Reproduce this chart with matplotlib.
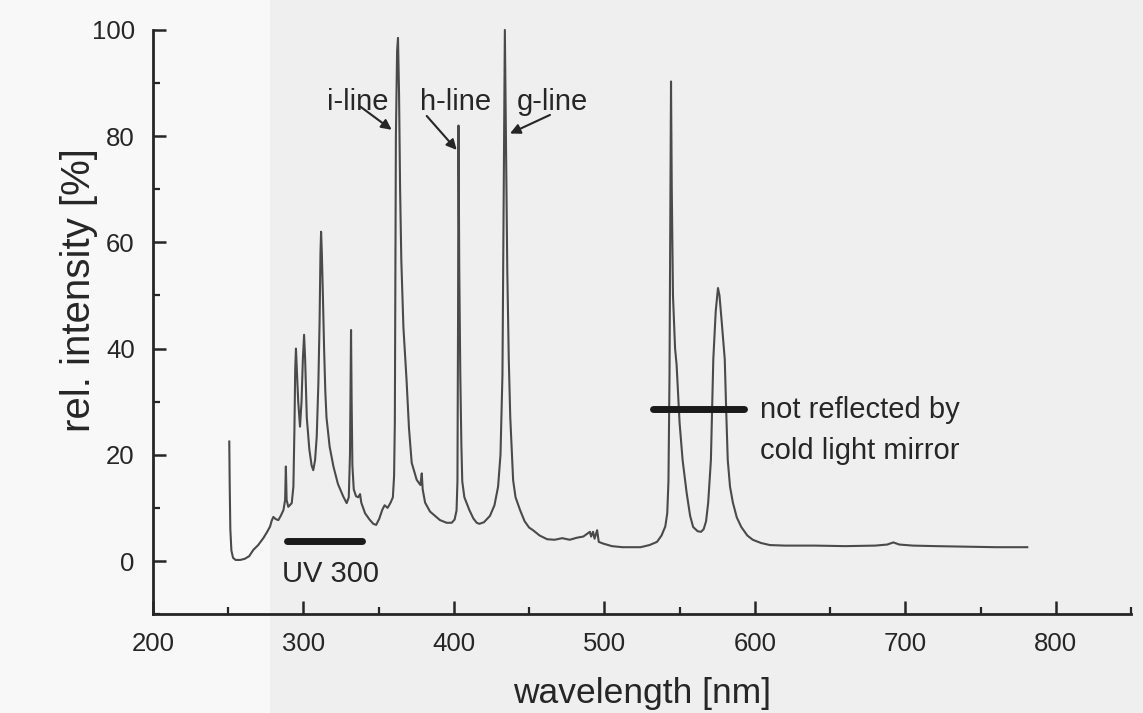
import matplotlib
matplotlib.use("Agg")
import matplotlib.pyplot as plt
from matplotlib.ticker import MultipleLocator
from matplotlib.patches import Rectangle

# ---- data (wavelength in nm, relative intensity in %) ----
wavelength_nm = [
    250.8, 251.1, 251.5, 252.2, 253.3, 255, 258, 261, 264, 266.8, 270, 273.4, 276, 277.9,
    279, 280.1, 281.6, 283.4, 285, 286.8, 287.9, 288.4, 288.9, 290, 292.3, 293.4, 294.1,
    294.6, 295.1, 295.7, 296.6, 297.8, 298.8, 299.7, 300.5, 301.2, 302.3, 304, 305.5,
    306.6, 307.8, 308.9, 310, 310.8, 311.4, 311.8, 312.3, 313, 313.8, 314.6, 315.4, 317.5,
    320, 323, 326.6, 328.8, 330.2, 331, 331.4, 331.7, 332.1, 332.6, 333.5, 335, 336.5,
    337.7, 338.5, 341, 344, 346.5, 348.4, 350.5, 352.4, 354, 356, 358, 359.5, 360.3,
    360.8, 361.1, 361.5, 362.3, 362.9, 363.6, 364.3, 365.1, 366.5, 368.6, 370.2, 372,
    375.3, 377.8, 378.7, 379.3, 380.9, 384.2, 390.8, 395.2, 398.6, 400.5, 401.8, 402.4,
    402.8, 403.1, 403.6, 404.3, 405, 405.6, 407, 410.3, 413, 415.2, 417, 420, 424, 427,
    429.4, 431, 432.3, 433.2, 433.9, 434.6, 435.5, 436.5, 437.5, 439.4, 441, 444, 447,
    450, 452.6, 457, 462, 467, 472, 477, 482, 486, 488, 490.4, 491.2, 492.5, 493.5,
    495.2, 496.3, 499, 505, 512, 518, 524, 530, 535, 538, 540.5, 541.8, 542.6, 543.3,
    543.9, 544.3, 544.8, 545.6, 547, 548, 550, 552, 554.7, 557, 559, 562, 564.3, 566,
    567.6, 569, 570.8, 572.4, 574, 575.5, 576.5, 578, 580, 581, 582, 583.5, 585.4, 588,
    591, 595, 598.6, 604, 610, 620, 640, 660, 680, 688, 692, 696, 705, 720, 740, 760, 781,
]
intensity_pct = [
    22.5, 14, 6, 2.0, 0.6, 0.2, 0.2, 0.4, 0.9, 2.1, 3.0, 4.3, 5.5, 6.5,
    7.6, 8.3, 7.9, 7.7, 8.5, 9.6, 11.5, 17.8, 11.5, 10.2, 10.9, 14, 25,
    36, 40, 36, 30, 25.3, 30, 38, 42.6, 38, 27, 21, 18,
    17.1, 19, 23.4, 33.5, 45, 58, 62, 58, 50, 40, 32, 27, 21.5,
    17.8, 14.5, 12.1, 10.9, 12, 20, 35, 43.5, 30, 18, 13.5, 12.2, 12,
    12.6, 11, 9, 7.8, 7, 6.8, 8, 9.6, 10.5, 10, 11, 12, 16,
    26, 50, 80, 96, 98.5, 88, 70, 56.7, 44, 34, 25, 18.5,
    15.3, 14.3, 16.5, 13.5, 11, 9.3, 7.7, 7.2, 7.2, 7.8, 9.5, 15,
    45, 82, 55, 35, 22, 15, 12, 9.6, 8, 7.2, 7.0, 7.3, 8.5, 10.5,
    14, 20, 35, 70, 100, 80, 55, 38, 27, 15.2, 12, 9.6, 7.5,
    6.3, 5.8, 4.8, 4.1, 4.0, 4.3, 4.0, 4.4, 4.6, 5.0, 5.5, 4.6, 5.5, 4.2,
    5.8, 3.6, 3.3, 2.8, 2.6, 2.6, 2.6, 3.0, 3.6, 4.8, 6.5, 9, 15, 35,
    70, 90.3, 70, 50, 40, 37, 26, 19, 12.8, 8.5, 6.4, 5.6, 5.5, 6.0,
    7.5, 11, 19, 38, 47, 51.4, 50, 45, 38, 28, 19, 14, 11, 8.2,
    6.4, 4.8, 4.0, 3.4, 3.0, 2.9, 2.9, 2.8, 2.9, 3.1, 3.5, 3.1, 2.9, 2.8, 2.7, 2.6, 2.6,
]

line_labels = ["i-line", "h-line", "g-line"]
uv_label = "UV 300"
uv_band_nm = [289.0, 339.0]
mirror_labels = ["not reflected by", "cold light mirror"]
mirror_band_nm = [532.5, 592.5]

x_ticks = [200, 300, 400, 500, 600, 700, 800]
y_ticks = [0, 20, 40, 60, 80, 100]

# ---- figure ----
plt.rcParams["font.family"] = ["Liberation Sans", "DejaVu Sans"]
ink = "#262626"
fig = plt.figure(figsize=(11.43, 7.13), dpi=100)
fig.patch.set_facecolor("#efefef")
fig.patches.append(Rectangle((0, 0), 270 / 1143, 1, transform=fig.transFigure,
                             facecolor="#f8f8f8", edgecolor="none", zorder=-10))

ax = fig.add_axes([0.1337, 0.1387, 0.8559, 0.8193])
ax.set_facecolor("none")

ax.plot(wavelength_nm, intensity_pct, color="#4a4a4a", lw=1.5, clip_on=False,
        solid_joinstyle="round")

ax.set_xlim(200, 850)
ax.set_ylim(-10, 100)
ax.set_xticks(x_ticks)
ax.set_yticks(y_ticks)
ax.xaxis.set_minor_locator(MultipleLocator(50))
ax.yaxis.set_minor_locator(MultipleLocator(10))

for side in ["top", "right"]:
    ax.spines[side].set_visible(False)
for side in ["left", "bottom"]:
    ax.spines[side].set_linewidth(2.0)
    ax.spines[side].set_color(ink)

ax.tick_params(which="major", direction="in", length=9.5, width=1.8, color=ink,
               labelsize=18.5, labelcolor=ink, pad=13)
ax.tick_params(which="minor", direction="in", length=5, width=1.6, color=ink)

ax.set_xlabel("wavelength [nm]", fontsize=25.5, color=ink, labelpad=15)
ax.set_ylabel("rel. intensity [%]", fontsize=29, color=ink)
ax.yaxis.set_label_coords(-0.056, 0.555)

# line annotations
txt_kw = dict(fontsize=21, color=ink, va="baseline", ha="left")
ax.text(315.7, 84.9, line_labels[0], **txt_kw)
ax.text(377.5, 84.9, line_labels[1], **txt_kw)
ax.text(442.0, 84.9, line_labels[2], **txt_kw)

arrow_kw = dict(arrowstyle="-|>", color=ink, lw=1.5, mutation_scale=15,
                shrinkA=0, shrinkB=0)
ax.annotate("", xy=(358.7, 81.2), xytext=(337.7, 85.6), arrowprops=arrow_kw)
ax.annotate("", xy=(401.9, 77.4), xytext=(382.0, 83.8), arrowprops=arrow_kw)
ax.annotate("", xy=(437.3, 80.5), xytext=(463.9, 84.0), arrowprops=arrow_kw)

# bands
ax.plot(uv_band_nm, [3.8, 3.8], color="#1a1a1a", lw=5, solid_capstyle="round")
ax.text(285.6, -3.9, uv_label, **txt_kw)
ax.plot(mirror_band_nm, [28.6, 28.6], color="#1a1a1a", lw=5, solid_capstyle="round")
ax.text(603.5, 26.9, mirror_labels[0], **txt_kw)
ax.text(603.5, 19.3, mirror_labels[1], **txt_kw)

fig.savefig("out.png", dpi=100, facecolor=fig.get_facecolor())
